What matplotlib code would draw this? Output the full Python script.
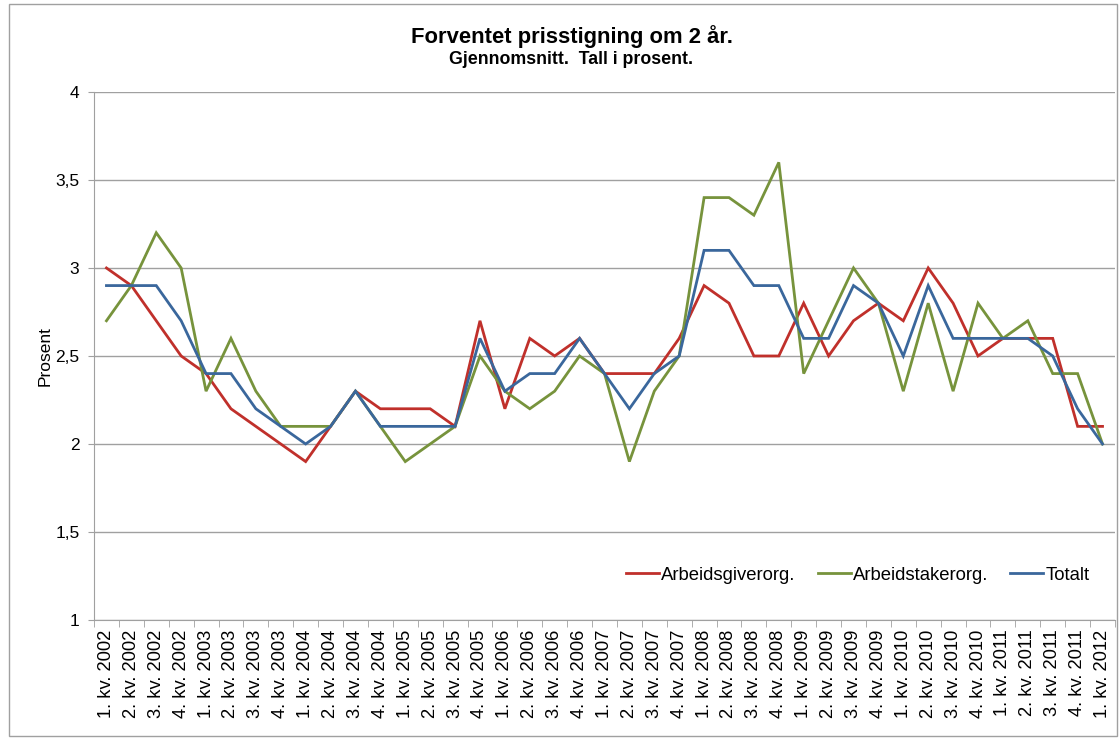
import matplotlib.pyplot as plt
import numpy as np

quarters = [f"{q}. kv. {y}" for y in range(2002, 2013) for q in range(1, 5)][:41]

arbeidsgiver = [3.0, 2.9, 2.7, 2.5, 2.4, 2.2, 2.1, 2.0, 1.9, 2.1, 2.3, 2.2, 2.2, 2.2,
                2.1, 2.7, 2.2, 2.6, 2.5, 2.6, 2.4, 2.4, 2.4, 2.6, 2.9, 2.8, 2.5, 2.5,
                2.8, 2.5, 2.7, 2.8, 2.7, 3.0, 2.8, 2.5, 2.6, 2.6, 2.6, 2.1, 2.1]
arbeidstaker = [2.7, 2.9, 3.2, 3.0, 2.3, 2.6, 2.3, 2.1, 2.1, 2.1, 2.3, 2.1, 1.9, 2.0,
                2.1, 2.5, 2.3, 2.2, 2.3, 2.5, 2.4, 1.9, 2.3, 2.5, 3.4, 3.4, 3.3, 3.6,
                2.4, 2.7, 3.0, 2.8, 2.3, 2.8, 2.3, 2.8, 2.6, 2.7, 2.4, 2.4, 2.0]
totalt = [2.9, 2.9, 2.9, 2.7, 2.4, 2.4, 2.2, 2.1, 2.0, 2.1, 2.3, 2.1, 2.1, 2.1,
          2.1, 2.6, 2.3, 2.4, 2.4, 2.6, 2.4, 2.2, 2.4, 2.5, 3.1, 3.1, 2.9, 2.9,
          2.6, 2.6, 2.9, 2.8, 2.5, 2.9, 2.6, 2.6, 2.6, 2.6, 2.5, 2.2, 2.0]

series = [
    ("Arbeidsgiverorg.", arbeidsgiver, "#C0302B"),
    ("Arbeidstakerorg.", arbeidstaker, "#77933C"),
    ("Totalt", totalt, "#3A679C"),
]

plt.rcParams["font.family"] = ["Liberation Sans", "DejaVu Sans"]

fig = plt.figure(figsize=(11.19, 7.40), dpi=100)
ax = fig.add_axes([0.0840, 0.1622, 0.9124, 0.7135])

x = np.arange(len(quarters))
for name, vals, col in series:
    ax.plot(x, vals, color=col, lw=2.0, label=name, solid_joinstyle="miter")

ax.set_xlim(-0.5, len(quarters) - 0.5)
ax.set_ylim(1, 4)
ax.set_yticks([1, 1.5, 2, 2.5, 3, 3.5, 4])
ax.set_yticklabels(["1", "1,5", "2", "2,5", "3", "3,5", "4"], fontsize=12.5)
ax.yaxis.grid(True, color="#A0A0A0", lw=1.0)
ax.set_axisbelow(True)

ax.set_xticks(x)
ax.set_xticklabels(quarters, rotation=90, fontsize=13.2)
ax.set_xticks(np.arange(-0.5, len(quarters)), minor=True)
ax.tick_params(axis="x", which="major", length=0, pad=7)
ax.tick_params(axis="x", which="minor", length=5, color="#A0A0A0", direction="out")
ax.tick_params(axis="y", length=4.5, color="#A0A0A0", pad=6)

for s in ["top", "right"]:
    ax.spines[s].set_visible(False)
for s in ["left", "bottom"]:
    ax.spines[s].set_color("#A0A0A0")

ax.set_ylabel("Prosent", fontsize=12.5, labelpad=2)

ax.legend(loc="center right", bbox_to_anchor=(0.975, 0.085), ncol=3, frameon=False,
          fontsize=13.3, handlelength=1.8, columnspacing=1.2, handletextpad=0.1,
          borderpad=0, borderaxespad=0)

fig.text(0.511, 0.950, "Forventet prisstigning om 2 år.", ha="center", va="center",
         fontsize=15.8, fontweight="bold")
fig.text(0.510, 0.919, "Gjennomsnitt.  Tall i prosent.", ha="center", va="center",
         fontsize=12.8, fontweight="bold")

fig.patches.append(plt.Rectangle((0.008, 0.005), 0.99, 0.99, transform=fig.transFigure,
                                 fill=False, edgecolor="#A0A0A0", lw=1.0))

fig.savefig("out.png", dpi=100)
